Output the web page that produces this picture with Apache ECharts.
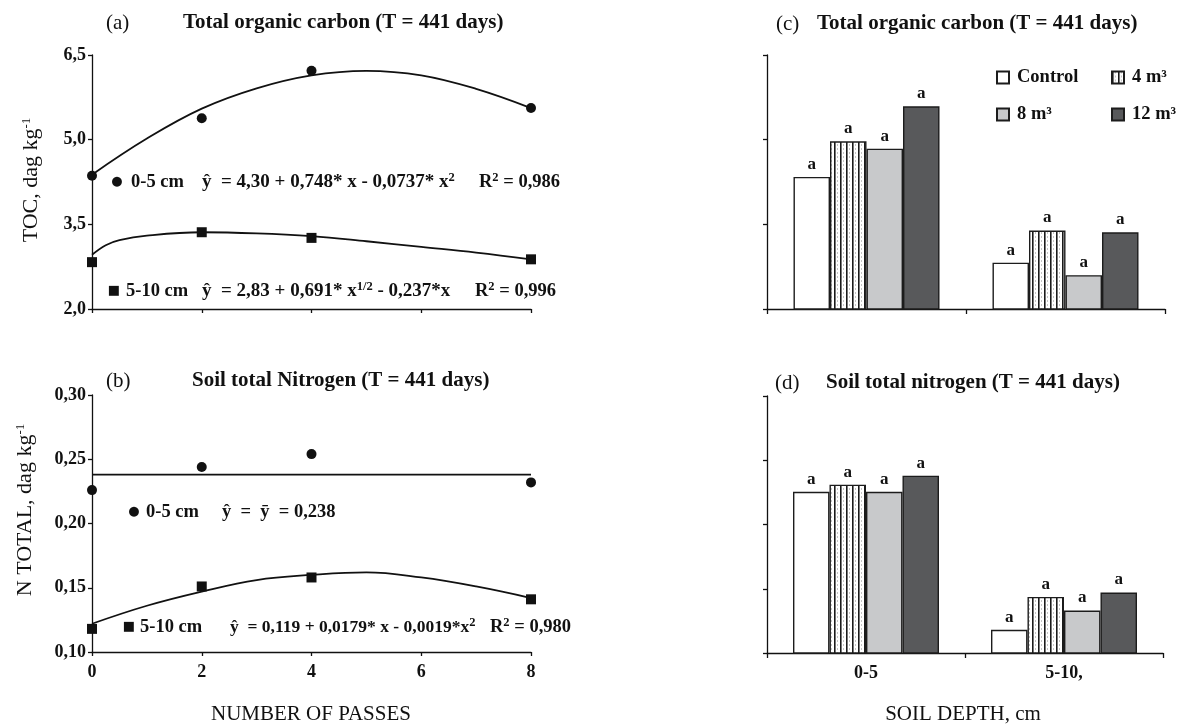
<!DOCTYPE html>
<html>
<head>
<meta charset="utf-8">
<title>TOC and soil total nitrogen</title>
<script src="https://cdn.jsdelivr.net/npm/echarts@6/dist/echarts.min.js"></script>
<style>
  html, body { margin: 0; padding: 0; background: #fff; }
  #chart { width: 1184px; height: 726px; }
</style>
</head>
<body>
<div id="chart"></div>
<script>
// measured points, panels (a) and (b)
const passes = [0, 2, 4, 8];
const toc05 = [4.36, 5.38, 6.22, 5.56];
const toc510 = [2.83, 3.36, 3.26, 2.88];
const nTot05 = [0.226, 0.244, 0.254, 0.232];
const nTot510 = [0.118, 0.151, 0.158, 0.141];

// fitted curves
const fitX = [0, 1, 2, 3, 4, 5, 6, 7, 8];
const tocFit05 = [4.38, 5.02, 5.55, 5.91, 6.14, 6.22, 6.14, 5.90, 5.56];
const tocFit510X = [0, 0.25, 0.5, 1, 2, 3, 4, 5, 6, 7, 8];
const tocFit510 = [2.96, 3.13, 3.22, 3.30, 3.36, 3.34, 3.29, 3.20, 3.10, 3.00, 2.88];
const nMeanX = [0, 8];
const nMean05 = [0.238, 0.238];
const nFit510 = [0.122, 0.136, 0.147, 0.156, 0.160, 0.162, 0.158, 0.151, 0.142];

// bars, panels (c) and (d)
const depths = ['0-5', '5-10,'];
const doses = ['Control', '4 m³', '8 m³', '12 m³'];
const tocBars = [[4.34, 2.82], [4.97, 3.39], [4.84, 2.60], [5.59, 3.36]];
const nBars = [[0.2255, 0.118], [0.231, 0.1436], [0.2255, 0.133], [0.238, 0.147]];
const tocLetters = [['a', 'a'], ['a', 'a'], ['a', 'a'], ['a', 'a']];
const nLetters = [['a', 'a'], ['a', 'a'], ['a', 'a'], ['a', 'a']];

// ticks
const tocTicks = [2.0, 3.5, 5.0, 6.5];
const nTicks = [0.10, 0.15, 0.20, 0.25, 0.30];

const SERIF = 'Liberation Serif';
const INK = '#111';

function pairs(xs, ys) {
  return xs.map((x, i) => [x, ys[i]]);
}

// vertical stripes for the 4 m3 bars
function stripes() {
  let c = document.createElement('canvas');
  c.width = 6;
  c.height = 4;
  let g = c.getContext('2d');
  g.fillStyle = '#fff';
  g.fillRect(0, 0, 6, 4);
  g.fillStyle = '#c4c4c4';
  g.fillRect(3, 0, 1, 2);
  g.fillStyle = '#1a1a1a';
  g.fillRect(0, 0, 1, 4);
  g.fillStyle = '#777';
  g.fillRect(1, 0, 1, 4);
  return c;
}
const fills = ['#ffffff', { image: stripes(), repeat: 'repeat' }, '#c8c9cb', '#58595b'];

const RICH = {
  s: { fontSize: 12.5, lineHeight: 12, fontFamily: SERIF, fontWeight: 'bold', fill: INK, verticalAlign: 'top' },
  r: { fontSize: 13, lineHeight: 13, fontFamily: SERIF, fill: INK, verticalAlign: 'top' }
};

function txt(x, y, text, extra, rot) {
  return {
    type: 'text', x: x, y: y, rotation: rot || 0, silent: true,
    style: Object.assign({
      text: text, fill: INK, fontFamily: SERIF, fontSize: 18.5, fontWeight: 'bold',
      align: 'left', verticalAlign: 'middle', lineHeight: 22, rich: RICH
    }, extra || {})
  };
}
const axisTitle = { fontSize: 21, fontWeight: 'normal', align: 'center' };
const yTitle = { fontSize: 22, fontWeight: 'normal', align: 'center' };
const keyMark = { fontFamily: 'DejaVu Sans', fontSize: 13, align: 'center' };

const axisLine = { show: true, onZero: false, lineStyle: { color: INK, width: 1.3 } };
const tickStyle = { color: INK, width: 1.3 };
const boldLabel = { fontFamily: SERIF, fontSize: 18, fontWeight: 'bold', color: INK };

function valueY(grid, min, max, ticks, showLabels, digits) {
  return {
    type: 'value', gridIndex: grid, min: min, max: max,
    axisLine: axisLine,
    axisTick: { show: true, length: 4, customValues: ticks, lineStyle: tickStyle },
    axisLabel: Object.assign({
      show: showLabels, customValues: ticks, margin: 6,
      formatter: v => v.toFixed(digits).replace('.', ',')
    }, boldLabel),
    splitLine: { show: false }
  };
}

function passX(grid, showLabels) {
  return {
    type: 'value', gridIndex: grid, min: 0, max: 8, interval: 2,
    axisLine: axisLine,
    axisTick: { show: true, length: 4, lineStyle: tickStyle },
    axisLabel: Object.assign({ show: showLabels, margin: 11 }, boldLabel),
    splitLine: { show: false }
  };
}

function depthX(grid, showLabels) {
  return {
    type: 'category', gridIndex: grid, data: depths,
    axisLine: axisLine,
    axisTick: { show: true, length: 5, alignWithLabel: false, lineStyle: tickStyle },
    axisLabel: Object.assign({ show: showLabels, margin: 11 }, boldLabel),
    splitLine: { show: false }
  };
}

let series = [];
function dots(grid, xs, ys, symbol) {
  series.push({
    type: 'scatter', xAxisIndex: grid, yAxisIndex: grid,
    data: pairs(xs, ys), symbol: symbol, symbolSize: 10,
    itemStyle: { color: INK, opacity: 1 }
  });
}
function curve(grid, xs, ys) {
  series.push({
    type: 'line', xAxisIndex: grid, yAxisIndex: grid,
    data: pairs(xs, ys), smooth: 0.4, showSymbol: false,
    lineStyle: { color: INK, width: 1.8 }
  });
}

dots(0, passes, toc05, 'circle');
dots(0, passes, toc510, 'rect');
curve(0, fitX, tocFit05);
curve(0, tocFit510X, tocFit510);

dots(1, passes, nTot05, 'circle');
dots(1, passes, nTot510, 'rect');
curve(1, nMeanX, nMean05);
curve(1, fitX, nFit510);

function bars(grid, values, letters) {
  doses.forEach((name, i) => {
    series.push({
      type: 'bar', name: name, xAxisIndex: grid, yAxisIndex: grid,
      data: values[i], barWidth: 36.5, barGap: '0%',
      itemStyle: { color: fills[i], borderColor: '#1c1c1c', borderWidth: 1.4 },
      label: {
        show: true, position: 'top', distance: 4,
        fontFamily: SERIF, fontSize: 17, fontWeight: 'bold', color: INK,
        formatter: p => letters[i][p.dataIndex]
      }
    });
  });
}
bars(2, tocBars, tocLetters);
bars(3, nBars, nLetters);

const legendBase = {
  orient: 'vertical', top: 68, padding: 0, itemWidth: 12, itemHeight: 12, itemGap: 18,
  icon: 'rect', selectedMode: false,
  textStyle: { fontFamily: SERIF, fontSize: 18.5, fontWeight: 'bold', color: INK, lineHeight: 18, padding: [0, 0, 0, 3] }
};

function heading(letter, lx, text, tx, top) {
  return [
    { text: letter, left: lx, top: top, padding: 0, textStyle: { fontFamily: SERIF, fontSize: 21, fontWeight: 'normal', color: INK, lineHeight: 22 } },
    { text: text, left: tx, top: top, padding: 0, textStyle: { fontFamily: SERIF, fontSize: 21, fontWeight: 'bold', color: INK, lineHeight: 22 } }
  ];
}

const option = {
  animation: false,
  backgroundColor: '#fff',
  textStyle: { fontFamily: SERIF },
  title: [].concat(
    heading('(a)', 106, 'Total organic carbon (T = 441 days)', 183, 12),
    heading('(b)', 106, 'Soil total Nitrogen (T = 441 days)', 192, 370),
    heading('(c)', 776, 'Total organic carbon (T = 441 days)', 817, 13),
    heading('(d)', 775, 'Soil total nitrogen (T = 441 days)', 826, 372)
  ),
  legend: [
    Object.assign({ data: ['Control', '8 m³'], left: 996 }, legendBase),
    Object.assign({ data: ['4 m³', '12 m³'], left: 1111 }, legendBase)
  ],
  grid: [
    { left: 92, top: 55, width: 439, height: 254, outerBoundsMode: 'none' },
    { left: 92, top: 395, width: 439, height: 257, outerBoundsMode: 'none' },
    { left: 767, top: 55, width: 398, height: 254, outerBoundsMode: 'none' },
    { left: 767, top: 396, width: 396, height: 257, outerBoundsMode: 'none' }
  ],
  xAxis: [passX(0, false), passX(1, true), depthX(2, false), depthX(3, true)],
  yAxis: [
    valueY(0, 2, 6.5, tocTicks, true, 1),
    valueY(1, 0.10, 0.30, nTicks, true, 2),
    valueY(2, 2, 6.5, tocTicks, false, 1),
    valueY(3, 0.10, 0.30, nTicks, false, 2)
  ],
  series: series,
  graphic: [
    // axis titles
    txt(31, 180, 'TOC, dag kg{r|-1}', yTitle, Math.PI / 2),
    txt(25, 510, 'N TOTAL, dag kg{r|-1}', yTitle, Math.PI / 2),
    txt(311, 714, 'NUMBER OF PASSES', axisTitle),
    txt(963, 714, 'SOIL DEPTH, cm', axisTitle),
    // (a) equations
    txt(117, 182, '●', keyMark),
    txt(131, 182, '0-5 cm'),
    txt(202, 182, 'ŷ  = 4,30 + 0,748* x - 0,0737* x{s|2}', { fontSize: 19 }),
    txt(479, 182, 'R{s|2} = 0,986'),
    txt(114, 291, '■', keyMark),
    txt(126, 291, '5-10 cm'),
    txt(202, 291, 'ŷ  = 2,83 + 0,691* x{s|1/2} - 0,237*x', { fontSize: 19 }),
    txt(475, 291, 'R{s|2} = 0,996'),
    // (b) equations
    txt(134, 512, '●', keyMark),
    txt(146, 512, '0-5 cm'),
    txt(222, 512, 'ŷ  =  ȳ  = 0,238'),
    txt(129, 627, '■', keyMark),
    txt(140, 627, '5-10 cm'),
    txt(230, 627, 'ŷ  = 0,119 + 0,0179* x - 0,0019*x{s|2}', { fontSize: 17.5 }),
    txt(490, 627, 'R{s|2} = 0,980')
  ]
};

const chart = echarts.init(document.getElementById('chart'));
chart.setOption(option);
window.addEventListener('resize', chart.resize, false);
</script>
</body>
</html>
